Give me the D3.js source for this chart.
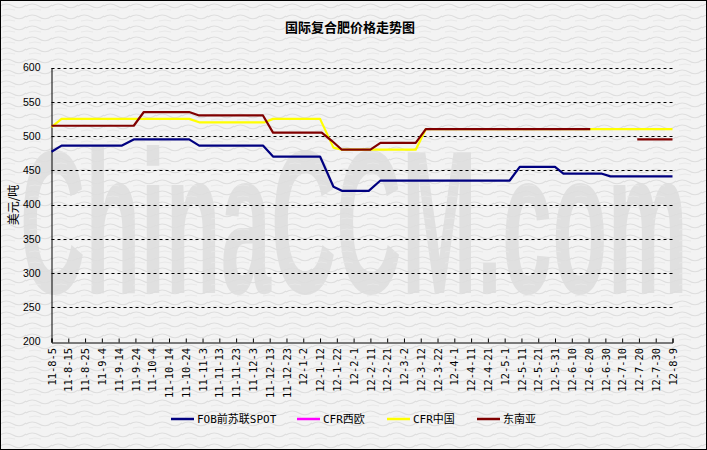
<!DOCTYPE html>
<html>
<head>
<meta charset="utf-8">
<script src="https://cdn.jsdelivr.net/npm/d3@7"></script>
<style>
  html, body { margin: 0; padding: 0; background: #fff; }
  svg { display: block; }
</style>
</head>
<body>
<svg id="chart" width="707" height="450"></svg>
<script>
// ---------- data ----------
const title = "国际复合肥价格走势图";
const yTitle = "美元/吨";
const watermarkText = "ChinaCCM.com";
const yTicks = [200, 250, 300, 350, 400, 450, 500, 550, 600];
const xTickLabels = ["11-8-5","11-8-15","11-8-25","11-9-4","11-9-14","11-9-24","11-10-4","11-10-14","11-10-24",
  "11-11-3","11-11-13","11-11-23","11-12-3","11-12-13","11-12-23","12-1-2","12-1-12","12-1-22","12-2-1",
  "12-2-11","12-2-21","12-3-2","12-3-12","12-3-22","12-4-1","12-4-11","12-4-21","12-5-1","12-5-11",
  "12-5-21","12-5-31","12-6-10","12-6-20","12-6-30","12-7-10","12-7-20","12-7-30","12-8-9"];
const seriesNames = ["FOB前苏联SPOT", "CFR西欧", "CFR中国", "东南亚"];
const seriesColors = ["#000080", "#ff00ff", "#ffff00", "#800000"];

const fobDates  = ["2011-08-05","2011-08-11","2011-09-16","2011-09-23","2011-10-26","2011-11-01","2011-12-09","2011-12-15",
  "2012-01-12","2012-01-20","2012-01-25","2012-02-10","2012-02-17","2012-05-04","2012-05-10","2012-05-31","2012-06-05",
  "2012-06-28","2012-07-03","2012-08-09"];
const fobValues = [477, 486, 486, 495, 495, 486, 486, 470, 470, 426, 420, 420, 435, 435, 455, 455, 445, 445, 441, 441];

const cfrEuDates  = [];
const cfrEuValues = [];

const cfrCnDates  = ["2011-08-05","2011-08-11","2011-10-26","2011-11-01","2011-12-10","2011-12-15","2012-01-12","2012-01-20",
  "2012-01-25","2012-03-09","2012-03-15","2012-08-09"];
const cfrCnValues = [513, 525, 525, 520, 520, 525, 525, 483, 480, 480, 510, 510];

const seaDates  = ["2011-08-05","2011-09-23","2011-09-29","2011-10-26","2011-11-01","2011-12-09","2011-12-15","2012-01-13",
  "2012-01-19","2012-01-25","2012-02-11","2012-02-17","2012-03-09","2012-03-15","2012-06-21","2012-07-05","2012-07-19","2012-08-09"];
const seaValues = [515, 515, 535, 535, 530, 530, 505, 505, 493, 480, 480, 490, 490, 510, 510, null, 495, 495];

// ---------- layout ----------
const W = 707, H = 450;
const plot = { left: 51.5, right: 672.5, top: 67.5, bottom: 341.5 };
const parseDate = d3.utcParse("%Y-%m-%d");
const parseTick = d3.utcParse("%y-%m-%d");

const svg = d3.select("#chart");

// background with a light texture
const defs = svg.append("defs");
const pat = defs.append("pattern").attr("id", "tex").attr("width", 26).attr("height", 11).attr("patternUnits", "userSpaceOnUse");
pat.append("path").attr("d", "M0 6 Q6 2 13 6 T26 5").attr("stroke", "#dedede").attr("stroke-width", 1.1).attr("fill", "none");
pat.append("path").attr("d", "M3 10 Q9 8 15 10").attr("stroke", "#e6e6e6").attr("stroke-width", 0.9).attr("fill", "none");
svg.append("rect").attr("x", 0).attr("y", 0).attr("width", W).attr("height", H).attr("fill", "#f3f3f3");

// watermark (behind the texture), condensed horizontally
const wm = svg.append("text")
  .attr("x", 0).attr("y", 0)
  .attr("font-family", "Liberation Sans, Arial, sans-serif").attr("font-weight", "bold")
  .attr("font-size", 205).attr("fill", "#e0e0e0")
  .text(watermarkText);
const wmWidth = wm.node().getComputedTextLength() || 1515;
wm.attr("transform", `translate(20,293) scale(${668 / wmWidth},1)`);

svg.append("rect").attr("x", 0).attr("y", 0).attr("width", W).attr("height", H).attr("fill", "url(#tex)");
svg.append("rect").attr("x", 0.5).attr("y", 0.5).attr("width", W - 1).attr("height", H - 1)
  .attr("fill", "none").attr("stroke", "#000").attr("stroke-width", 1);

// scales
const x = d3.scaleUtc()
  .domain([parseTick(xTickLabels[0]), parseTick(xTickLabels[xTickLabels.length - 1])])
  .range([plot.left, plot.right]);
const y = d3.scaleLinear().domain([200, 600]).range([plot.bottom, plot.top]);

// gridlines
svg.append("g").selectAll("line").data(yTicks.filter(v => v > 200)).join("line")
  .attr("x1", plot.left).attr("x2", plot.right)
  .attr("y1", d => Math.round(y(d)) + 0.5).attr("y2", d => Math.round(y(d)) + 0.5)
  .attr("stroke", "#000").attr("stroke-width", 1).attr("stroke-dasharray", "3,3");

// y axis
const yAxis = d3.axisLeft(y).tickValues(yTicks).tickSize(0).tickPadding(11);
const gy = svg.append("g").attr("transform", `translate(${Math.round(plot.left) - 0.5},0)`).call(yAxis);
gy.select(".domain").attr("stroke", "#000");
gy.selectAll("text").attr("font-family", "Liberation Sans, Arial, sans-serif").attr("font-size", 10.5).attr("fill", "#000");

// x axis (ticks pointing inward)
const xTickDates = xTickLabels.map(parseTick);
const xAxis = d3.axisBottom(x).tickValues(xTickDates).tickSize(-4).tickFormat("");
const gx = svg.append("g").attr("transform", `translate(0,${Math.round(plot.bottom) + 0.5})`).call(xAxis);
gx.select(".domain").attr("stroke", "#000");
gx.selectAll(".tick line").attr("stroke", "#000");
svg.append("g").selectAll("text").data(xTickLabels).join("text")
  .attr("transform", (d) => `translate(${x(parseTick(d)) + 0.5},348) rotate(-90)`)
  .attr("text-anchor", "end").attr("dy", "0.35em")
  .attr("font-family", "DejaVu Sans Mono, Liberation Mono, monospace").attr("font-size", 10.4).attr("fill", "#000")
  .text(d => d);

// lines
const allSeries = [
  { dates: fobDates, values: fobValues },
  { dates: cfrEuDates, values: cfrEuValues },
  { dates: cfrCnDates, values: cfrCnValues },
  { dates: seaDates, values: seaValues }
];
const line = d3.line()
  .defined(d => d.v !== null)
  .x(d => x(d.t)).y(d => y(d.v));
allSeries.forEach((s, i) => {
  const pts = s.dates.map((dt, j) => ({ t: parseDate(dt), v: s.values[j] }));
  svg.append("path").datum(pts)
    .attr("d", line)
    .attr("fill", "none").attr("stroke", seriesColors[i]).attr("stroke-width", 2.2)
    .attr("stroke-linejoin", "round");
});

// title
svg.append("text").attr("x", 350).attr("y", 27).attr("dy", "0.35em").attr("text-anchor", "middle")
  .attr("font-family", "Noto Sans CJK SC, sans-serif").attr("font-weight", "bold").attr("font-size", 13)
  .attr("fill", "#000").text(title);

// y title
svg.append("text").attr("transform", "translate(14,205) rotate(-90)").attr("text-anchor", "middle").attr("dy", "0.35em")
  .attr("font-family", "Noto Sans CJK SC, sans-serif").attr("font-size", 12).attr("fill", "#000").text(yTitle);

// legend
const legendX = [171, 297, 387, 477];
const lg = svg.append("g");
seriesNames.forEach((name, i) => {
  lg.append("line").attr("x1", legendX[i]).attr("x2", legendX[i] + 23).attr("y1", 419).attr("y2", 419)
    .attr("stroke", seriesColors[i]).attr("stroke-width", 2.5);
  lg.append("text").attr("x", legendX[i] + 26).attr("y", 419).attr("dy", "0.35em")
    .attr("font-family", "DejaVu Sans Mono, Noto Sans CJK SC, sans-serif").attr("font-size", 11).attr("fill", "#000")
    .text(name);
});
</script>
</body>
</html>
